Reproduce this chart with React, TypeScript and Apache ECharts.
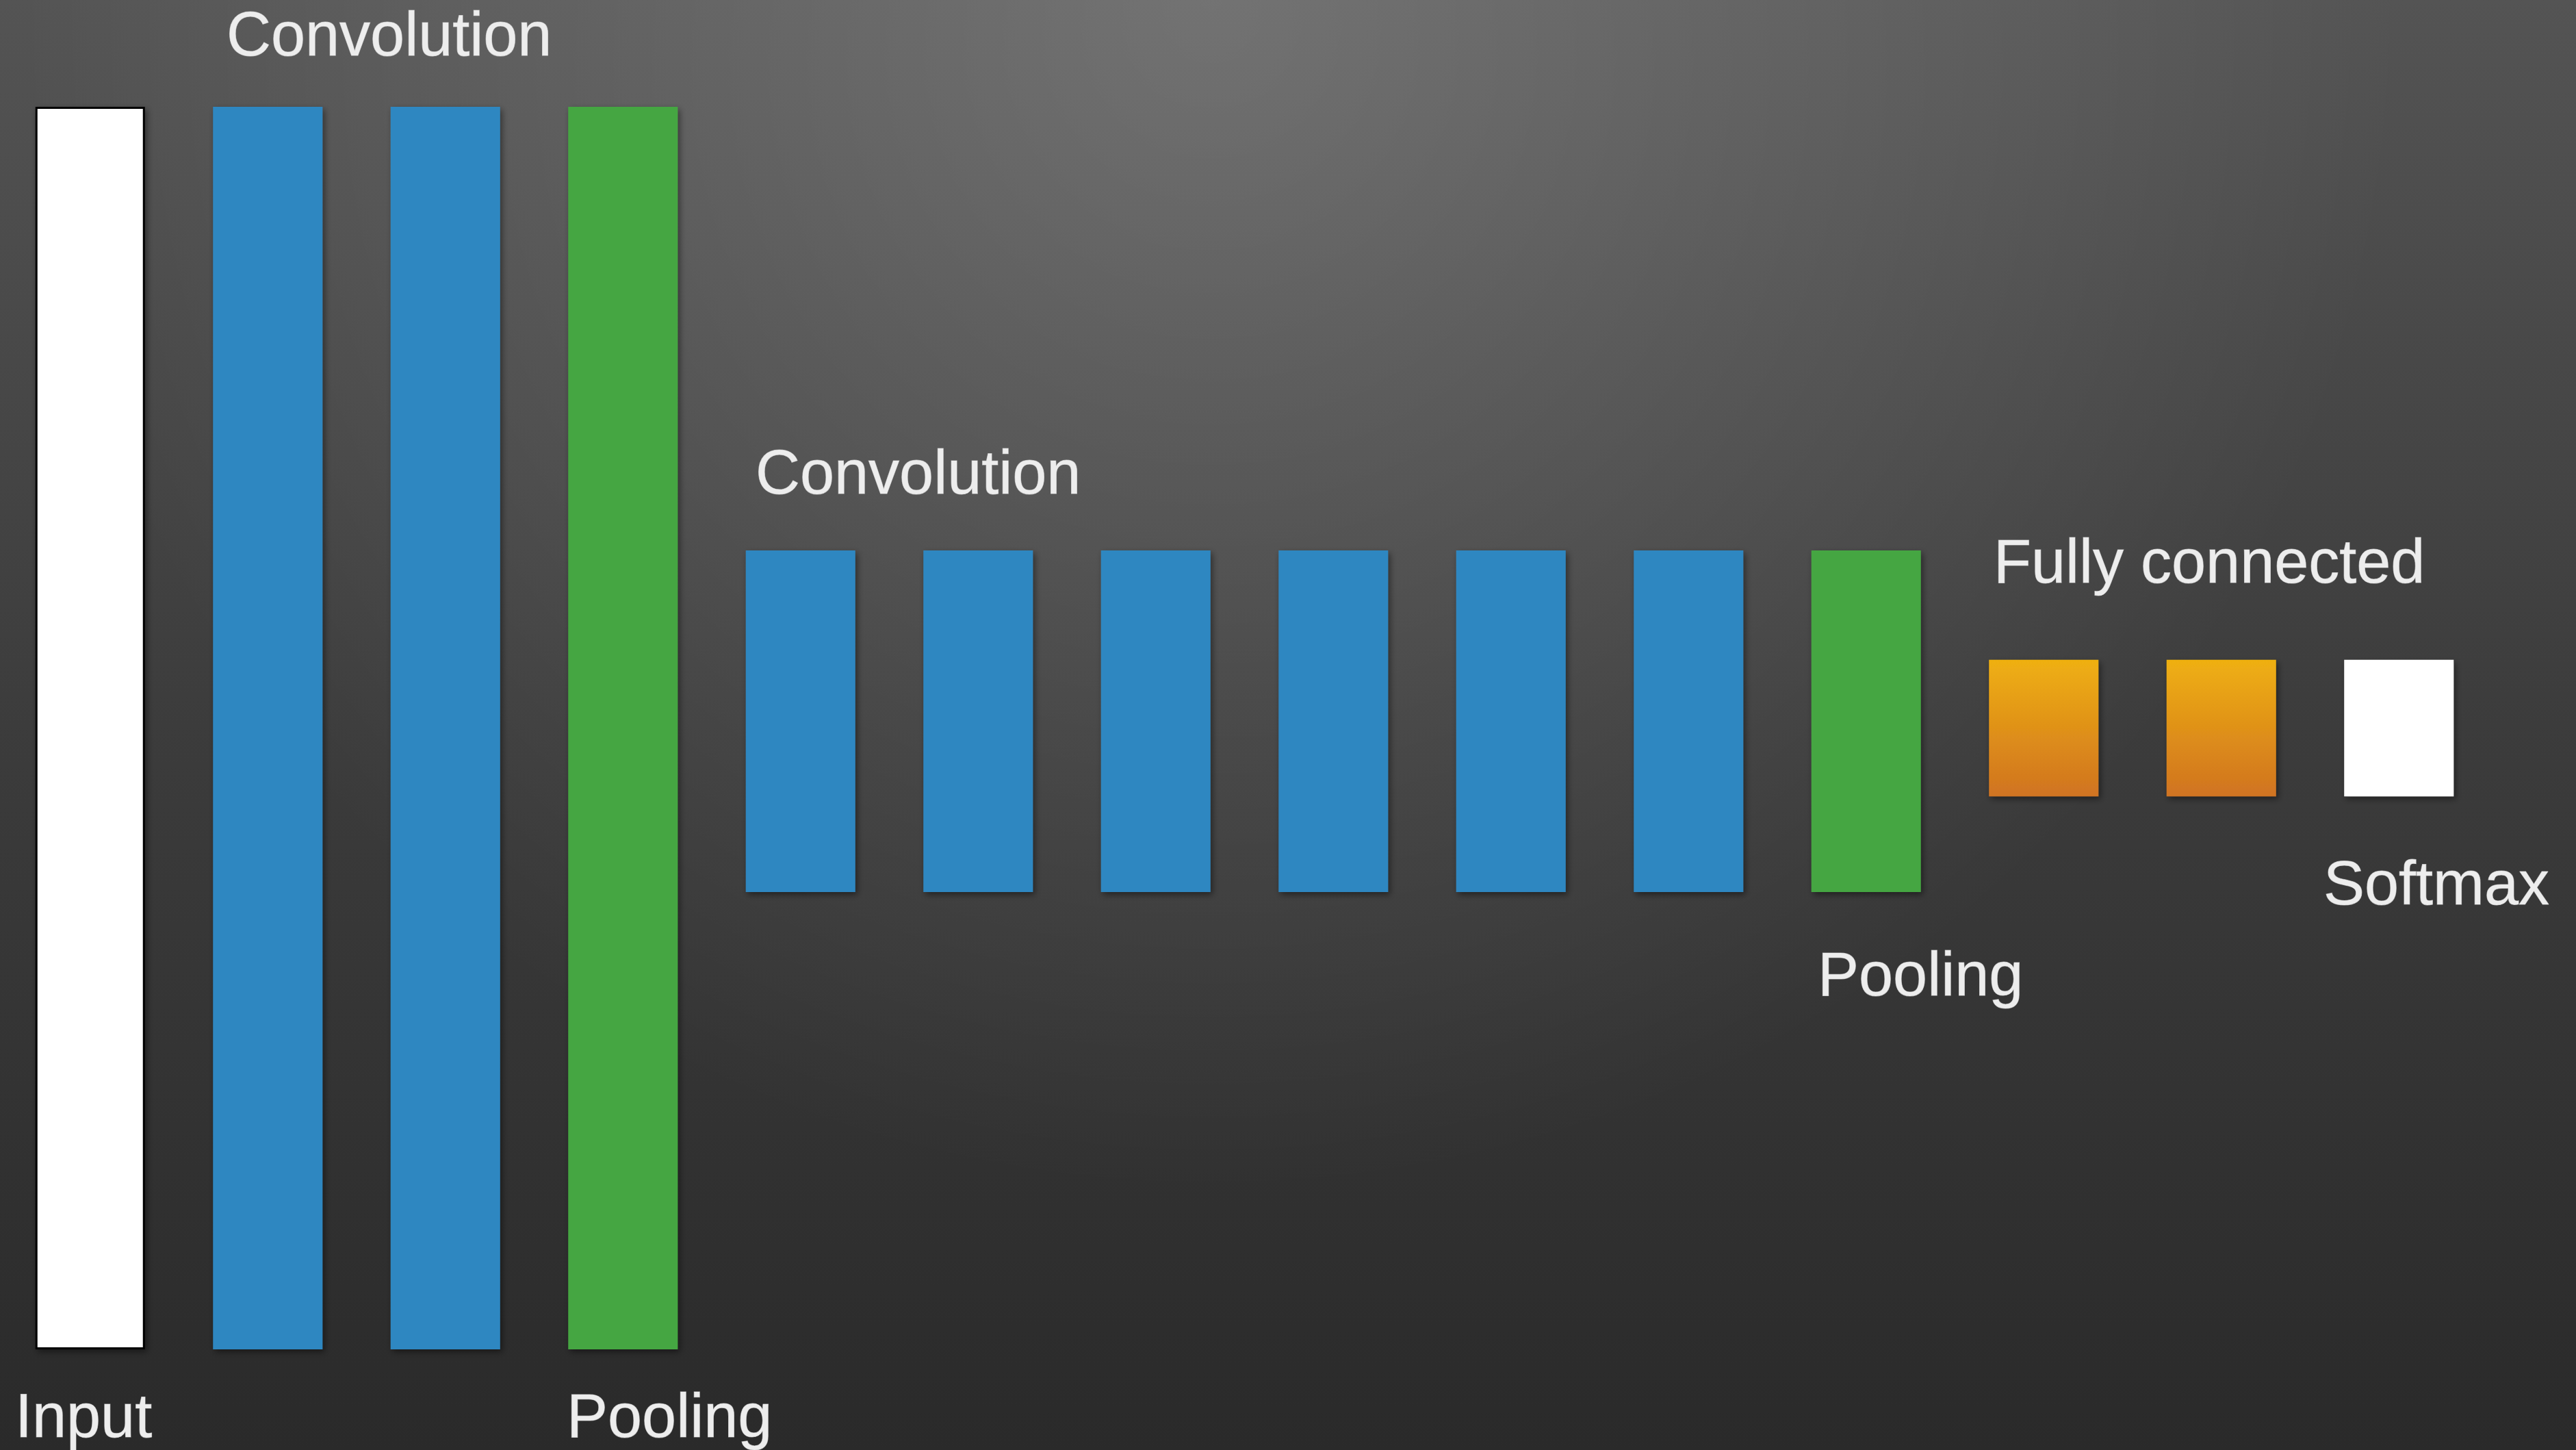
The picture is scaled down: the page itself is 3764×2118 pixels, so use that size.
import { useEffect, useRef } from "react";
import * as echarts from "echarts";

// ---- data ----
const layers = [
  "Input", "Conv 1", "Conv 2", "Pool 1",
  "Conv 3", "Conv 4", "Conv 5", "Conv 6", "Conv 7", "Conv 8", "Pool 2",
  "FC 1", "FC 2", "Softmax",
];
const layerKinds = [
  "input", "conv", "conv", "pool",
  "conv", "conv", "conv", "conv", "conv", "conv", "pool",
  "fc", "fc", "softmax",
];
// vertical extent of each layer block (0 = bottom of input, 100 = top of input)
const layerBottoms = [0, 0, 0, 0, 36.8, 36.8, 36.8, 36.8, 36.8, 36.8, 36.8, 44.5, 44.5, 44.5];
const layerTops = [100, 100, 100, 100, 64.3, 64.3, 64.3, 64.3, 64.3, 64.3, 64.3, 55.5, 55.5, 55.5];
const annotationTexts = ["Convolution", "Input", "Pooling", "Convolution", "Pooling", "Fully connected", "Softmax"];

// ---- styles ----
const W = 3764;
const H = 2118;
const annotationPos: [number, number][] = [
  [331, 50],
  [22, 2068],
  [828, 2068],
  [1104, 690],
  [2656, 1423],
  [2913, 820],
  [3395, 1290],
];

function kindStyle(kind: string): any {
  const shadow = {
    shadowBlur: 10,
    shadowColor: "rgba(0,0,0,0.45)",
    shadowOffsetX: 3,
    shadowOffsetY: 4,
  };
  switch (kind) {
    case "input":
      return { color: "#ffffff", borderColor: "#000000", borderWidth: 3, ...shadow };
    case "conv":
      return { color: "#2F87C1", ...shadow };
    case "pool":
      return { color: "#44A642", ...shadow };
    case "fc":
      return {
        color: new echarts.graphic.LinearGradient(0, 0, 0, 1, [
          { offset: 0, color: "#EFB011" },
          { offset: 1, color: "#D07321" },
        ]),
        ...shadow,
      };
    default:
      return { color: "#ffffff", ...shadow };
  }
}

export default function App() {
  const ref = useRef<HTMLDivElement>(null);

  useEffect(() => {
    document.body.style.margin = "0";
    if (!ref.current) return;
    const chart = echarts.init(ref.current, undefined, { renderer: "svg" });

    const baseData = layerBottoms.slice();
    const barData = layerTops.map((t, i) => ({
      value: t - layerBottoms[i],
      itemStyle: kindStyle(layerKinds[i]),
    }));

    const font = '90px "Liberation Sans", Arial, Helvetica, sans-serif';

    chart.setOption({
      animation: false,
      grid: { left: 2, right: 129, top: 156, bottom: 147, containLabel: false },
      xAxis: {
        type: "category",
        data: layers,
        show: false,
      },
      yAxis: { type: "value", min: 0, max: 100, show: false },
      graphic: [
        {
          type: "rect",
          z: -100,
          silent: true,
          shape: { x: 0, y: 0, width: W, height: H },
          style: {
            fill: new echarts.graphic.LinearGradient(0, 0, 0, 1, [
              { offset: 0, color: "#545454" },
              { offset: 0.5, color: "#3c3c3c" },
              { offset: 1, color: "#2a2a2a" },
            ]),
          },
        },
        {
          type: "rect",
          z: -99,
          silent: true,
          shape: { x: 0, y: 0, width: W, height: H },
          style: {
            fill: new echarts.graphic.RadialGradient(1770, 0, 1750, [
              { offset: 0, color: "rgba(255,255,255,0.18)" },
              { offset: 1, color: "rgba(255,255,255,0)" },
            ], true),
          },
        },
        ...annotationTexts.map((t, i) => ({
          type: "text",
          z: 50,
          silent: true,
          x: annotationPos[i][0],
          y: annotationPos[i][1],
          style: {
            text: t,
            font,
            fill: "#EDEDED",
            align: "left",
            verticalAlign: "middle",
            stroke: "rgba(237,237,237,0.6)",
            lineWidth: 1,
            shadowBlur: 6,
            shadowColor: "rgba(0,0,0,0.75)",
            shadowOffsetX: 2,
            shadowOffsetY: 4,
          },
        })),
      ],
      series: [
        {
          type: "bar",
          stack: "layer",
          barWidth: 160,
          silent: true,
          itemStyle: { color: "rgba(0,0,0,0)" },
          data: baseData,
        },
        {
          type: "bar",
          stack: "layer",
          barWidth: 160,
          data: barData,
        },
      ],
    });

    return () => chart.dispose();
  }, []);

  return <div ref={ref} style={{ width: W, height: H }} />;
}
